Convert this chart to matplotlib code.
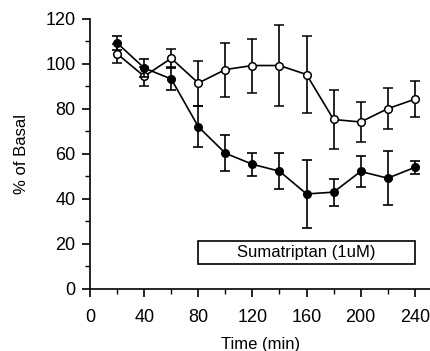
import numpy as np
import matplotlib
matplotlib.use('Agg')
import matplotlib.pyplot as plt
from matplotlib.patches import Rectangle

plt.rcParams['font.family'] = ['Liberation Sans', 'DejaVu Sans']

# time points (min)
time = [20, 40, 60, 80, 100, 120, 140, 160, 180, 200, 220, 240]

# control (open circles)
ctrl = [104.5, 94.5, 102.5, 91.5, 97.5, 99.3, 99.3, 95.3, 75.3, 74.2, 80.1, 84.3]
ctrl_err = [4.3, 4.2, 4.0, 10.0, 12.0, 12.0, 18.0, 17.0, 13.0, 9.0, 9.0, 8.0]

# sumatriptan (filled circles)
suma = [109.3, 98.2, 93.3, 72.1, 60.3, 55.4, 52.3, 42.2, 43.0, 52.2, 49.2, 54.0]
suma_err = [3.0, 4.0, 5.0, 9.0, 8.0, 5.0, 8.0, 15.0, 6.0, 7.0, 12.0, 3.0]

# drug application bar
drug_start, drug_end = 80, 240
drug_lo, drug_hi = 11, 21.5
drug_label = 'Sumatriptan (1uM)'

fig = plt.figure(figsize=(4.31, 3.51), dpi=100)
ax = fig.add_axes([0.209, 0.177, 0.791, 0.769])

ax.errorbar(time, ctrl, yerr=ctrl_err, color='black', lw=1.2, elinewidth=1.2,
            capsize=3.5, capthick=1.2, marker='o', markersize=5.5,
            markerfacecolor='white', markeredgecolor='black', markeredgewidth=1.1,
            zorder=3)
ax.errorbar(time, suma, yerr=suma_err, color='black', lw=1.2, elinewidth=1.2,
            capsize=3.5, capthick=1.2, marker='o', markersize=5.5,
            markerfacecolor='black', markeredgecolor='black', zorder=4)

ax.add_patch(Rectangle((drug_start, drug_lo), drug_end - drug_start, drug_hi - drug_lo,
                       facecolor='white', edgecolor='black', lw=1.2, zorder=2))
ax.text((drug_start + drug_end) / 2, (drug_lo + drug_hi) / 2, drug_label,
        ha='center', va='center', fontsize=12)

ax.set_xlim(0, 252)
ax.set_ylim(0, 120)
ax.set_xticks(np.arange(0, 241, 40))
ax.set_xticks(np.arange(20, 241, 40), minor=True)
ax.set_yticks(np.arange(0, 121, 20))
ax.set_yticks(np.arange(10, 120, 20), minor=True)
ax.spines['top'].set_visible(False)
ax.spines['right'].set_visible(False)
ax.spines['left'].set_linewidth(1.2)
ax.spines['bottom'].set_linewidth(1.2)
ax.tick_params(which='major', direction='out', length=5.5, width=1.2, labelsize=13, pad=5)
ax.tick_params(axis='x', which='major', pad=9)
ax.tick_params(which='minor', direction='out', length=3.5, width=1.0)
ax.set_xlabel('Time (min)', fontsize=12, labelpad=8)
ax.set_ylabel('% of Basal', fontsize=12, labelpad=12)

fig.savefig('out.png', dpi=100)
